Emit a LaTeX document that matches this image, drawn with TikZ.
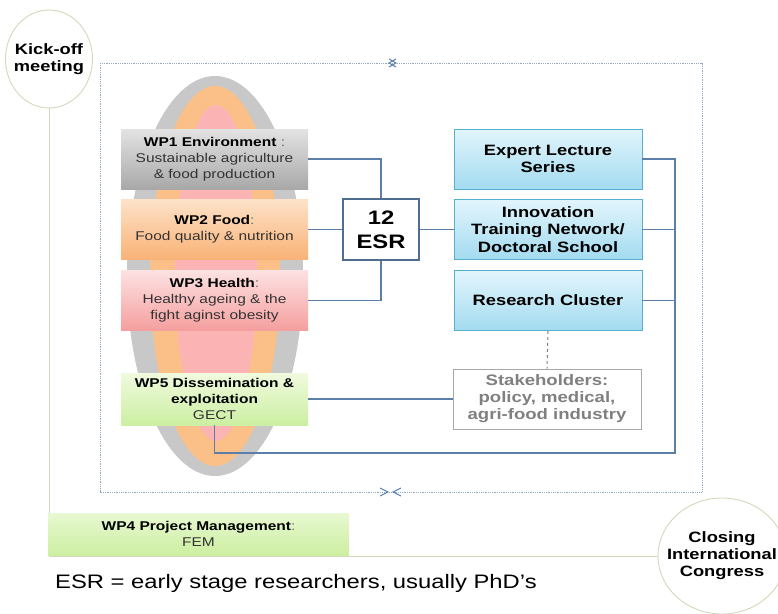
\documentclass[tikz,border=0pt]{standalone}
\usepackage{fontspec}
\setmainfont{Liberation Sans}[FakeStretch=1.22]
\usetikzlibrary{shapes.geometric}

\definecolor{linkc}{HTML}{5B7FA8}
\definecolor{framec}{HTML}{94A9C2}
\definecolor{khaki}{HTML}{D6D6BC}
\definecolor{ovalgray}{HTML}{C8C8C8}
\definecolor{ovalorange}{HTML}{FBC088}
\definecolor{ovalpink}{HTML}{FCB3B3}
\definecolor{bluetop}{HTML}{E2F5FC}
\definecolor{bluebot}{HTML}{A3DBF0}
\definecolor{bluebd}{HTML}{55AFCF}
\definecolor{esrbd}{HTML}{4F6D8E}
\definecolor{stakec}{HTML}{808080}
\definecolor{stakebd}{HTML}{A8A8A8}
\definecolor{subtext}{HTML}{333333}
\definecolor{colonc}{HTML}{6A6A6A}

\newcommand{\bodysize}{\fontsize{12.7}{16}\selectfont}

\begin{document}
\begin{tikzpicture}[x=1pt, y=-1pt,
  wpbox/.style={rectangle, minimum width=187pt, minimum height=60pt,
    inner sep=2pt, align=center, font=\bodysize},
  bluebox/.style={rectangle, draw=bluebd, line width=0.9pt,
    top color=bluetop, bottom color=bluebot,
    minimum width=188pt, minimum height=60pt, align=center,
    font=\bfseries\fontsize{15}{17.5}\selectfont},
  link/.style={draw=linkc, line width=1.1pt},
  milestone/.style={ellipse, draw=khaki, line width=0.9pt, fill=white, inner sep=0pt},
  milestonetext/.style={align=center, font=\bfseries\fontsize{15}{17}\selectfont},
  marker/.style={draw=linkc, line width=1pt}
]
\useasboundingbox (0,0) rectangle (778,613);

% programme frame
\draw[framec, densely dotted, line width=0.8pt] (100,63) rectangle (702,492);

% layered work-package oval
\fill[ovalgray]   (215,276) ellipse [x radius=88pt, y radius=200pt];
\fill[ovalorange] (215,276) ellipse [x radius=65pt, y radius=190pt];
\fill[ovalpink]   (216,273) ellipse [x radius=41pt, y radius=168pt];

% milestones and the project time line
\node[milestone, minimum width=87pt, minimum height=98pt] (kick) at (49,59) {};
\node[milestone, minimum width=128pt, minimum height=116pt] (closing) at (722,556) {};
\draw[khaki, line width=1pt] (kick.south) |- (closing.west);
\node[milestonetext] at (kick) {Kick-off\\meeting};
\node[milestonetext] at (closing) {Closing\\International\\Congress};

% work packages
\node[wpbox, top color=gray!22, bottom color=gray!68] (wp1) at (214.5,159)
  {\textbf{WP1 Environment} \textcolor{colonc}{:}\\\textcolor{subtext}{Sustainable agriculture}\\\textcolor{subtext}{\& food production}};
\node[wpbox, top color={rgb,255:red,253;green,226;blue,200}, bottom color={rgb,255:red,249;green,178;blue,118}] (wp2) at (214.5,229.5)
  {\textbf{WP2 Food}\textcolor{colonc}{:}\\\textcolor{subtext}{Food quality \& nutrition}};
\node[wpbox, top color={rgb,255:red,253;green,226;blue,226}, bottom color={rgb,255:red,245;green,158;blue,158}] (wp3) at (214.5,300.5)
  {\textbf{WP3 Health}\textcolor{colonc}{:}\\\textcolor{subtext}{Healthy ageing \& the}\\\textcolor{subtext}{fight aginst obesity}};
\node[wpbox, minimum height=52pt, top color={rgb,255:red,240;green,250;blue,222}, bottom color={rgb,255:red,204;green,239;blue,162}] (wp5) at (214.5,399)
  {\textbf{WP5 Dissemination \&}\\\textbf{exploitation}\\\textcolor{subtext}{GECT}};
\node[wpbox, minimum width=301pt, minimum height=42pt, top color={rgb,255:red,232;green,248;blue,210}, bottom color={rgb,255:red,204;green,239;blue,160}] (wp4) at (198.5,534)
  {\textbf{WP4 Project Management}\textcolor{colonc}{:}\\\textcolor{subtext}{FEM}};

% researchers
\node[rectangle, draw=esrbd, line width=1.5pt, fill=white, minimum width=76pt, minimum height=61pt,
  align=center, font=\bfseries\fontsize{19.5}{24}\selectfont] (esr) at (381,229.5) {12\\ESR};

% training activities
\node[bluebox] (lectures) at (548,159) {Expert Lecture\\Series};
\node[bluebox] (itn) at (548,229.5) {Innovation\\Training Network/\\Doctoral School};
\node[bluebox] (cluster) at (548,300.5) {Research Cluster};
\node[rectangle, draw=stakebd, line width=0.9pt, fill=white, minimum width=188pt, minimum height=60pt,
  align=center, text=stakec, font=\bfseries\fontsize{15.2}{17}\selectfont] (stake) at (547,399)
  {Stakeholders:\\policy, medical,\\agri-food industry};

\coordinate (busbot) at (675,453);

% connectors
\draw[link] (wp1.east) -| (esr.north);
\draw[link] (wp2.east) -- (esr.west);
\draw[link] (wp3.east) -| (esr.south);
\draw[link] (esr.east) -- (itn.west);
\draw[link] (lectures.east) -| (busbot) -| (wp5.south);
\draw[link] (itn.east) -- (itn.east -| busbot);
\draw[link] (cluster.east) -- (cluster.east -| busbot);
\draw[link] (wp5.east) -- (stake.west);
\draw[stakec, dashed, line width=1pt] (cluster.south) -- (stake.north);

% frame markers
\draw[marker] (389,59) -- (396,63) -- (389,67);
\draw[marker] (396,59) -- (389,63) -- (396,67);
\draw[marker] (380,488) -- (388,492) -- (380,496);
\draw[marker] (401,488) -- (393,492) -- (401,496);

% footnote
\node[anchor=base west, inner sep=0pt, font=\fontsize{19.5}{22}\selectfont] (note) at (55,588)
  {ESR = early stage researchers, usually PhD’s};
\end{tikzpicture}
\end{document}
